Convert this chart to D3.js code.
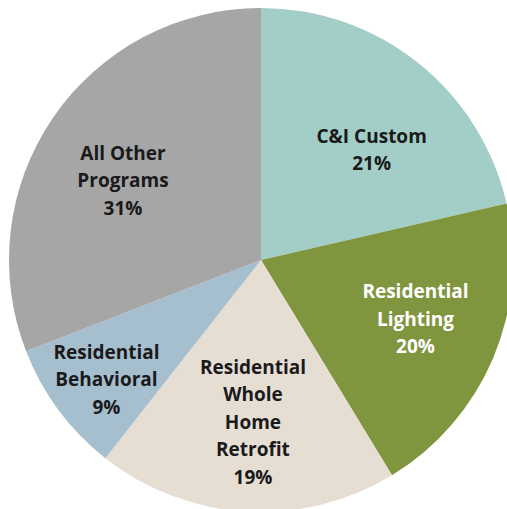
<!DOCTYPE html>
<html>
<head>
<meta charset="utf-8">
<script src="https://cdn.jsdelivr.net/npm/d3@7"></script>
<style>
  html, body { margin: 0; padding: 0; background: #fff; overflow: hidden; }
  svg { display: block; }
</style>
</head>
<body>
<svg></svg>
<script>
// program shares (percent), clockwise from 12 o'clock
var programs = ["C&I Custom", "Residential Lighting", "Residential Whole Home Retrofit", "Residential Behavioral", "All Other Programs"];
var shares   = [21.4, 19.9, 19.3, 8.5, 30.9];
var shown    = ["21%", "20%", "19%", "9%", "31%"];
var labelLines = [
  ["C&I Custom"],
  ["Residential", "Lighting"],
  ["Residential", "Whole", "Home", "Retrofit"],
  ["Residential", "Behavioral"],
  ["All Other", "Programs"]
];

draw();

function draw(){
  var width = 507, height = 509;
  var cx = 261, cy = 260, radius = 252;

  var colors = ["#a2cec7", "#7f963f", "#e6ddd3", "#a6bfcf", "#a6a6a6"];
  var textColors = ["#1a1a1a", "#ffffff", "#1a1a1a", "#1a1a1a", "#1a1a1a"];
  // small nudges to mimic where the labels sit in the original
  var nudge = [[11, 15], [7, -3], [1.5, 2], [-26, 24], [-6, 11]];

  var svg = d3.select("svg")
              .attr("width", width)
              .attr("height", height);

  var data = programs.map(function(p, i){
    return {name: p, value: shares[i], pct: shown[i], lines: labelLines[i], i: i};
  });

  var pie = d3.pie()
              .sort(null)
              .value(function(d){ return d.value; });

  var arc = d3.arc().innerRadius(0).outerRadius(radius);
  var labelArc = d3.arc().innerRadius(160).outerRadius(160);

  var g = svg.append("g")
             .attr("transform", "translate(" + cx + "," + cy + ")");

  var arcs = pie(data);

  g.selectAll("path")
   .data(arcs)
   .enter()
   .append("path")
   .attr("d", arc)
   .attr("fill", function(d){ return colors[d.data.i]; });

  var lineH = 27.5;
  var labels = g.selectAll("text")
                .data(arcs)
                .enter()
                .append("text")
                .attr("font-family", "'Open Sans', sans-serif")
                .attr("font-weight", "bold")
                .attr("font-size", "19px")
                .attr("text-anchor", "middle")
                .attr("fill", function(d){ return textColors[d.data.i]; })
                .attr("transform", function(d){
                  var c = labelArc.centroid(d);
                  var n = nudge[d.data.i];
                  return "translate(" + (c[0] + n[0]) + "," + (c[1] + n[1]) + ")";
                });

  labels.each(function(d){
    var all = d.data.lines.concat([d.data.pct]);
    var top = -(all.length - 1) * lineH / 2;
    d3.select(this).selectAll("tspan")
      .data(all)
      .enter()
      .append("tspan")
      .attr("x", 0)
      .attr("y", function(t, k){ return top + k * lineH + 6.8; })
      .text(function(t){ return t; });
  });
}
</script>
</body>
</html>
